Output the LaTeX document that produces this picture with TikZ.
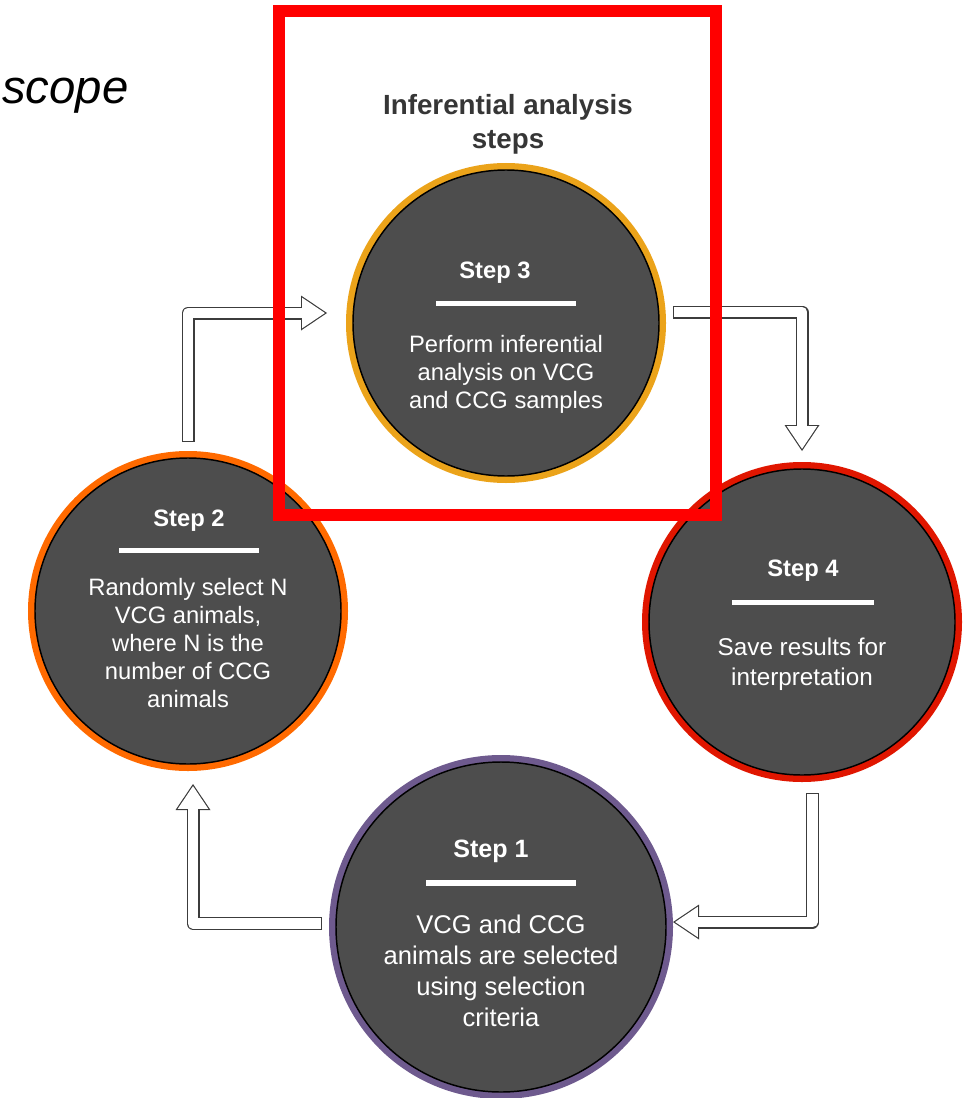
\documentclass[tikz,border=0pt]{standalone}
\usepackage{fontspec}
\setmainfont{Liberation Sans}
\usetikzlibrary{arrows.meta}

\definecolor{stepfill}{HTML}{4D4D4D}
\definecolor{ringone}{HTML}{6E5A8E}
\definecolor{ringtwo}{HTML}{FF6A00}
\definecolor{ringthree}{HTML}{EBA31A}
\definecolor{ringfour}{HTML}{E01600}
\definecolor{arrowedge}{HTML}{3C3C3C}
\definecolor{headgray}{HTML}{363636}

\tikzset{
  stepcircle/.style={circle, fill=stepfill, draw=black, line width=1.1pt,
    inner sep=0pt, outer sep=0pt, preaction={draw=#1, line width=10.5pt}},
  steptitle/.style={text=white, inner sep=0pt, font=\bfseries\fontsize{17.8}{21}\selectfont},
  stepbar/.style={fill=white, inner sep=0pt, minimum height=3.75pt, minimum width=#1},
  stepbody/.style={text=white, align=center, inner sep=0pt, font=\fontsize{17.8}{21}\selectfont},
  blockout/.style={draw=arrowedge, line width=9.75pt, line join=round,
    -{Triangle[length=19.5pt, width=26.25pt, line width=0pt]}},
  blockin/.style={draw=white, line width=7.95pt, line join=round,
    shorten <=0.9pt, shorten >=1.6pt,
    -{Triangle[length=17pt, width=22.9pt, line width=0pt]}},
  focusbox/.style={draw=red, line width=9pt, inner sep=0pt,
    minimum width=327.75pt, minimum height=378pt}
}

\begin{document}
\begin{tikzpicture}[x=0.75pt, y=-0.75pt]
    \useasboundingbox (0,0) rectangle (963,1098);

    % Cut-off heading at the top left
    \node[anchor=base west, inner sep=0pt, font=\itshape\fontsize{35.5}{40}\selectfont] (scopeword) at (2,104) {scope};

    % Heading over step 3
    \node[align=center, text=headgray, inner sep=0pt, font=\bfseries\fontsize{20.8}{25.5}\selectfont] (heading) at (508,124) {Inferential analysis\\steps};

    % Step 3
    \node[stepcircle=ringthree, minimum size=229.5pt] (s3) at (506,323) {};
    \node[steptitle] (s3t) at (495,273) {Step 3};
    \node[stepbar=105pt] (s3b) at (506,303) {};
    \node[stepbody] (s3x) at (506,374) {Perform inferential\\analysis on VCG\\and CCG samples};

    % Step 2
    \node[stepcircle=ringtwo, minimum size=229.5pt, preaction={line width=12pt}] (s2) at (188,611) {};
    \node[steptitle] (s2t) at (189,521) {Step 2};
    \node[stepbar=105pt] (s2b) at (189,550) {};
    \node[stepbody] (s2x) at (188,643) {Randomly select N\\VCG animals,\\where N is the\\number of CCG\\animals};

    % Step 4
    \node[stepcircle=ringfour, minimum size=229.5pt, preaction={line width=12pt}] (s4) at (802,622) {};
    \node[steptitle] (s4t) at (803,571) {Step 4};
    \node[stepbar=106.5pt] (s4b) at (803,602) {};
    \node[stepbody, font=\fontsize{18.2}{22.5}\selectfont] (s4x) at (802,664) {Save results for\\interpretation};

    % Step 1
    \node[stepcircle=ringone, minimum size=247.5pt, preaction={line width=9pt}] (s1) at (501,927) {};
    \node[steptitle, font=\bfseries\fontsize{18.8}{22}\selectfont] (s1t) at (491,851) {Step 1};
    \node[stepbar=113pt, minimum height=4.5pt] (s1b) at (501,883) {};
    \node[stepbody, font=\fontsize{19.2}{23.25}\selectfont] (s1x) at (501,971) {VCG and CCG\\animals are selected\\using selection\\criteria};

    % Hollow bent arrows between the steps
    \draw[blockout] ([yshift=12pt]s2.north) |- ([xshift=-19.5pt, yshift=7.5pt]s3.west);
    \draw[blockin] ([yshift=12pt]s2.north) |- ([xshift=-19.5pt, yshift=7.5pt]s3.west);
    \draw[blockout] ([xshift=10.5pt, yshift=8.25pt]s3.east) -| ([yshift=13.5pt]s4.north);
    \draw[blockin] ([xshift=10.5pt, yshift=8.25pt]s3.east) -| ([yshift=13.5pt]s4.north);
    \draw[blockout] ([xshift=7.9pt, yshift=-13.5pt]s4.south) |- ([xshift=5.25pt, yshift=3.75pt]s1.east);
    \draw[blockin] ([xshift=7.9pt, yshift=-13.5pt]s4.south) |- ([xshift=5.25pt, yshift=3.75pt]s1.east);
    \draw[blockout] ([xshift=-10.5pt, yshift=2.6pt]s1.west) -| ([xshift=3.75pt, yshift=-15pt]s2.south);
    \draw[blockin] ([xshift=-10.5pt, yshift=2.6pt]s1.west) -| ([xshift=3.75pt, yshift=-15pt]s2.south);

    % Red frame round step 3
    \node[focusbox] (focus) at (497.5,263) {};
\end{tikzpicture}
\end{document}
